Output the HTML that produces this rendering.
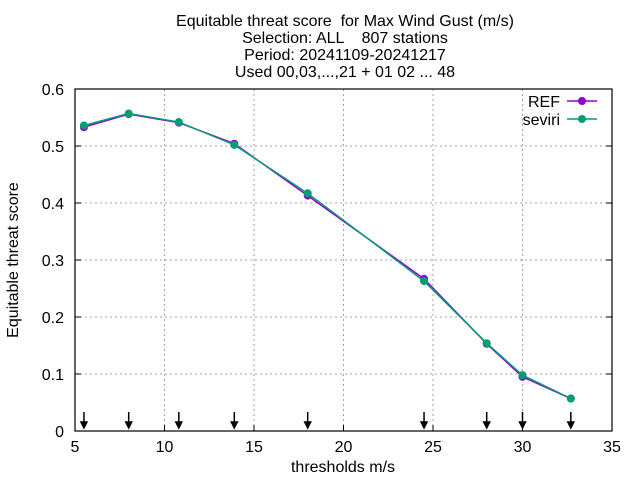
<!DOCTYPE html>
<html><head><meta charset="utf-8"><style>
body{margin:0;background:#fff}
svg text{font-family:"Liberation Sans",sans-serif;font-size:16px;fill:#000}
.pre{white-space:pre}
</style></head><body>
<svg id="chart" width="640" height="480">
<g>
<text class="pre" x="345" y="26" text-anchor="middle">Equitable threat score  for Max Wind Gust (m/s)</text>
<text class="pre" x="345" y="43" text-anchor="middle">Selection: ALL    807 stations</text>
<text x="345" y="60" text-anchor="middle">Period: 20241109-20241217</text>
<text x="345" y="77" text-anchor="middle">Used 00,03,...,21 + 01 02 ... 48</text>
</g>
<g id="grid"></g>
<g id="axes"></g>
<g id="series"></g>
<text transform="translate(18,260) rotate(-90)" text-anchor="middle">Equitable threat score</text>
<text x="343" y="472" text-anchor="middle">thresholds m/s</text>
<g>
<text x="560" y="107" text-anchor="end">REF</text>
<text x="560" y="125" text-anchor="end">seviri</text>
</g>
</svg>
<script>
const thresholds=[5.5,8.0,10.8,13.9,18.0,24.5,28.0,30.0,32.7];
const refValues=[0.533,0.556,0.541,0.504,0.413,0.267,0.153,0.095,0.057];
const seviriValues=[0.536,0.557,0.542,0.502,0.417,0.263,0.154,0.098,0.057];
const xTicks=[5,10,15,20,25,30,35];
const yTicks=[0,0.1,0.2,0.3,0.4,0.5,0.6];
const L=75,R=612,T=89,B=431;
const sx=v=>L+(v-5)/30*(R-L);
const sy=v=>B-v/0.6*(B-T);
const NS='http://www.w3.org/2000/svg';
function mk(tag,attrs,parent){const e=document.createElementNS(NS,tag);for(const k in attrs)e.setAttribute(k,attrs[k]);parent.appendChild(e);return e;}
const grid=document.getElementById('grid'),axes=document.getElementById('axes'),series=document.getElementById('series');
xTicks.forEach(t=>{
  if(t>5&&t<35){const g=mk('line',{x1:sx(t),x2:sx(t),y1:T,y2:B,stroke:'#a0a0a0','stroke-dasharray':'2,3'},grid);
  
  }
  const tk=mk('line',{x1:sx(t),x2:sx(t),y1:B,y2:B-6,stroke:'#000'},axes);
  
  
  const tx=mk('text',{x:sx(t),y:B+21,'text-anchor':'middle'},axes);tx.textContent=t;
  
  
});
yTicks.forEach(t=>{
  if(t>0&&t<0.6){const g=mk('line',{x1:L,x2:R,y1:sy(t),y2:sy(t),stroke:'#a0a0a0','stroke-dasharray':'2,3'},grid);
  
  }
  mk('line',{x1:L,x2:L+6,y1:sy(t),y2:sy(t),stroke:'#000'},axes);
  mk('line',{x1:R,x2:R-6,y1:sy(t),y2:sy(t),stroke:'#000'},axes);
  const tx=mk('text',{x:L-11,y:sy(t)+6,'text-anchor':'end'},axes);tx.textContent=t===0?'0':t.toFixed(1);
  
  
});
mk('rect',{x:L,y:T,width:R-L,height:B-T,fill:'none',stroke:'#000','stroke-width':1.2},axes);
thresholds.forEach(t=>{
  const a=mk('path',{d:`M${sx(t)},${B-19}V${B-6}M${sx(t)-3},${B-9}L${sx(t)},${B-3}L${sx(t)+3},${B-9}Z`,stroke:'#000','stroke-width':1.5,fill:'#000'},axes);
  
  
});
function draw(vals,color,name){
  const p=mk('polyline',{points:vals.map((v,i)=>sx(thresholds[i])+','+sy(v)).join(' '),fill:'none',stroke:color,'stroke-width':1.5},series);
  
  
  vals.forEach((v,i)=>{
    const c=mk('circle',{cx:sx(thresholds[i]),cy:sy(v),r:4,fill:color},series);
    
    
  });
}
draw(refValues,'#9400d3','ref');
draw(seviriValues,'#009e73','seviri');
const l1=mk('line',{x1:567,x2:597,y1:101,y2:101,stroke:'#9400d3','stroke-width':1.5},series);


mk('circle',{cx:582,cy:101,r:4,fill:'#9400d3'},series);
const l2=mk('line',{x1:567,x2:597,y1:119,y2:119,stroke:'#009e73','stroke-width':1.5},series);


mk('circle',{cx:582,cy:119,r:4,fill:'#009e73'},series);
</script>
</body></html>
